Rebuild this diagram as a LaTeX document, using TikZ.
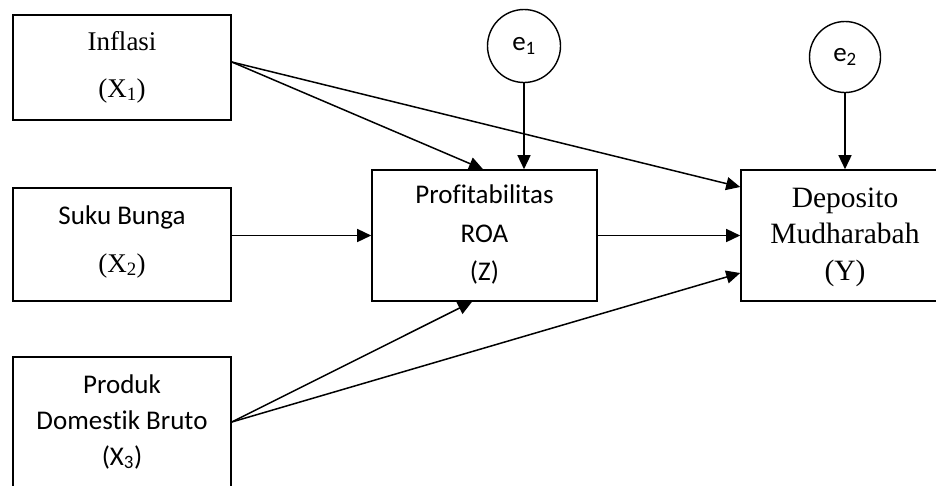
\documentclass[tikz,border=0pt]{standalone}
\usepackage{fontspec}
\setmainfont{Liberation Serif}
\newfontfamily\calfont[Ligatures={NoCommon,NoContextual},RawFeature=-calt]{Carlito}
\usetikzlibrary{arrows.meta,calc}
\begin{document}
\begin{tikzpicture}[x=1pt,y=-1pt,
  box/.style={draw,line width=1.6pt,inner sep=0pt},
  tms/.style={font=\fontsize{27}{30}\selectfont,inner sep=0pt,anchor=base},
  tmsb/.style={font=\fontsize{29.5}{32}\selectfont,inner sep=0pt,anchor=base},
  cal/.style={font=\calfont\fontsize{27}{30}\selectfont,inner sep=0pt,anchor=base},
  circ/.style={draw,circle,line width=1.4pt,minimum size=73pt,inner sep=0pt,font=\calfont\fontsize{27}{30}\selectfont},
  arr/.style={line width=1.5pt,-{Triangle[length=14pt,width=13pt]}}
]
\useasboundingbox (0,0) rectangle (936,485);
\clip (0,0) rectangle (936,485);
% boxes
\node[box,minimum width=218pt,minimum height=105pt] (x1) at (122,67.5) {};
\node[box,minimum width=218pt,minimum height=113pt] (x2) at (122,244.5) {};
\node[box,minimum width=218pt,minimum height=130pt] (x3) at (122,422) {};
\node[box,minimum width=225pt,minimum height=131pt] (z) at (484.5,235.5) {};
\node[box,minimum width=208pt,minimum height=131pt] (y) at (845,235.5) {};
% error terms
\node[circ] (e1) at (524,46) {e\textsubscript{1}};
\node[circ,minimum size=71pt] (e2) at (845,57) {e\textsubscript{2}};
% texts
\node[tms] (t1a) at (122,50) {Inflasi};
\node[tms] (t1b) at (122,97) {(X\textsubscript{1})};
\node[cal] (t2a) at (122,224) {Suku Bunga};
\node[tms] (t2b) at (122,272) {(X\textsubscript{2})};
\node[cal] (t3a) at (122,393) {Produk};
\node[cal] (t3b) at (122,429) {Domest\kern0pt ik Bruto};
\node[cal] (t3c) at (122,465) {(X\textsubscript{3})};
\node[cal] (tza) at (484.5,203) {Prof\kern0pt itabilitas};
\node[cal] (tzb) at (484.5,242) {ROA};
\node[cal] (tzc) at (484.5,280) {(Z)};
\node[tmsb] (tya) at (845,207) {Deposito};
\node[tmsb] (tyb) at (845,243) {Mudharabah};
\node[tmsb] (tyc) at (845,280) {(Y)};
% connectors
\draw[arr] ($(x1.east)+(0,-5.5)$) -- ($(z.north)+(-1.5,0)$);
\draw[arr] ($(x1.east)+(0,-5.5)$) -- ($(y.west)+(0,-48.5)$);
\draw[arr] (e1.south) -- (e1.south |- z.north);
\draw[arr] (e2.south) -- (e2.south |- y.north);
\draw[arr] (z.west -| x2.east) -- (z.west);
\draw[arr] (z.east) -- (y.west);
\draw[arr] (x3.east) -- ($(z.south)+(-12.5,0)$);
\draw[arr] (x3.east) -- ($(y.west)+(0,37.5)$);
\end{tikzpicture}
\end{document}
